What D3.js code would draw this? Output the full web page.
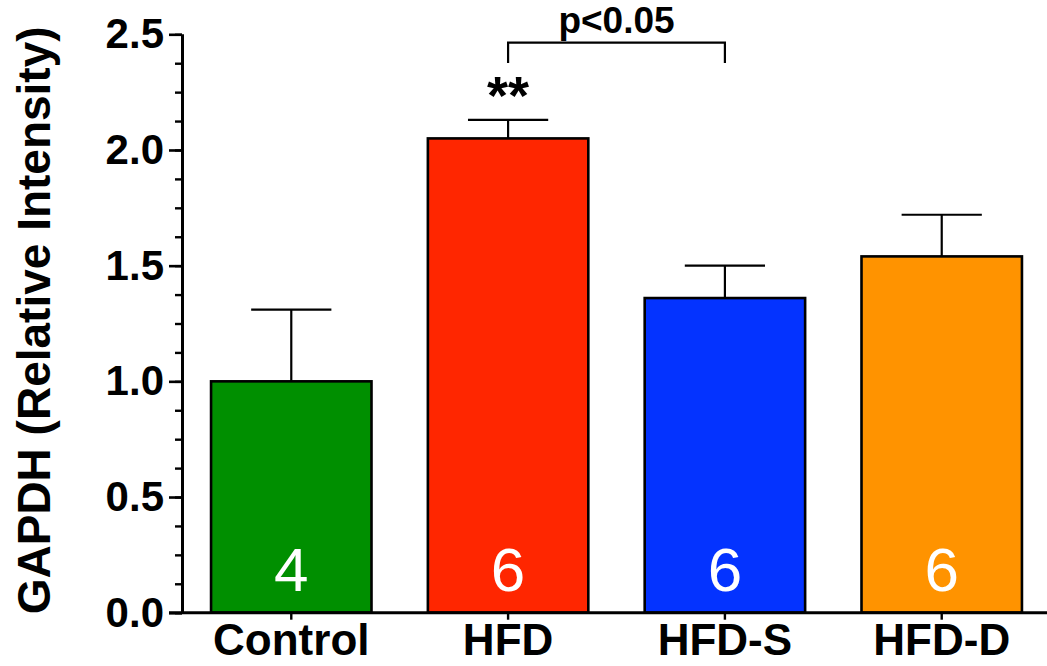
<!DOCTYPE html>
<html>
<head>
<meta charset="utf-8">
<script src="https://cdn.jsdelivr.net/npm/d3@7"></script>
<style>
  html, body { margin: 0; padding: 0; background: #fff; }
  svg { display: block; font-family: "Liberation Sans", Arial, Helvetica, sans-serif; }
</style>
</head>
<body>
<svg id="chart" width="1047" height="666"></svg>
<script>
// ---- data ----
const categories = ['Control', 'HFD', 'HFD-S', 'HFD-D'];
const means      = [1.00, 2.05, 1.36, 1.54];
const errTops    = [1.31, 2.13, 1.50, 1.72];   // mean + SEM
const counts     = ['4', '6', '6', '6'];
const colors     = ['#008F00', '#FF2600', '#0433FF', '#FF9300'];
const yTicks     = [0, 0.5, 1.0, 1.5, 2.0, 2.5];
const yTickText  = ['0.0', '0.5', '1.0', '1.5', '2.0', '2.5'];

const svg = d3.select('#chart');

// plot frame
const axisX = 182, y0 = 612.7, yTop = 34.3;

const y = d3.scaleLinear().domain([0, 2.5]).range([y0, yTop]);
const x = d3.scaleBand().domain(categories).range([axisX, 1051])
  .paddingInner(0.26).paddingOuter(0.134);

const rows = categories.map((c, i) => ({ c, m: means[i], e: errTops[i], n: counts[i], col: colors[i] }));

// error bars (drawn first so bar outline sits on top)
const capHalf = x.bandwidth() / 4;
const eb = svg.append('g').attr('stroke', '#000').attr('stroke-width', 2.2);
eb.selectAll('line.v').data(rows).join('line')
  .attr('x1', d => x(d.c) + x.bandwidth() / 2).attr('x2', d => x(d.c) + x.bandwidth() / 2)
  .attr('y1', d => y(d.m)).attr('y2', d => y(d.e));
eb.selectAll('line.h').data(rows).join('line')
  .attr('x1', d => x(d.c) + x.bandwidth() / 2 - capHalf)
  .attr('x2', d => x(d.c) + x.bandwidth() / 2 + capHalf)
  .attr('y1', d => y(d.e)).attr('y2', d => y(d.e));

// bars
svg.append('g').selectAll('rect').data(rows).join('rect')
  .attr('x', d => x(d.c)).attr('width', x.bandwidth())
  .attr('y', d => y(d.m)).attr('height', d => y0 - y(d.m))
  .attr('fill', d => d.col).attr('stroke', '#000').attr('stroke-width', 2.6);

// n inside bars
svg.append('g').selectAll('text').data(rows).join('text')
  .attr('x', d => x(d.c) + x.bandwidth() / 2).attr('y', 591)
  .attr('text-anchor', 'middle').attr('fill', '#fff')
  .attr('font-size', 62).text(d => d.n);

// y axis: major + minor ticks
const yAxisMinor = d3.axisLeft(y).tickValues(d3.range(0, 2.5001, 0.125))
  .tickSize(7).tickFormat('');
const gMinor = svg.append('g').attr('transform', `translate(${axisX},0)`).call(yAxisMinor);
gMinor.select('.domain').remove();
gMinor.selectAll('line').attr('stroke', '#000').attr('stroke-width', 2.4);

const yAxis = d3.axisLeft(y).tickValues(yTicks).tickSize(13).tickPadding(5)
  .tickFormat((d, i) => yTickText[i]);
const gy = svg.append('g').attr('transform', `translate(${axisX},0)`).call(yAxis);
gy.select('.domain').attr('d', `M0.5,${y0}V${yTop}`).attr('stroke', '#000').attr('stroke-width', 3);
gy.selectAll('line').attr('stroke', '#000').attr('stroke-width', 2.6);
gy.selectAll('text').attr('font-size', 42).attr('font-weight', 'bold').attr('fill', '#000')
  .attr('font-family', '"Liberation Sans", Arial, sans-serif');

// x axis
const xAxis = d3.axisBottom(x).tickSize(7).tickPadding(8);
const gx = svg.append('g').attr('transform', `translate(0,${y0})`).call(xAxis);
gx.select('.domain').attr('d', `M169,0H1047`).attr('stroke', '#000').attr('stroke-width', 3);
gx.selectAll('line').attr('stroke', '#000').attr('stroke-width', 2.4);
gx.selectAll('text').attr('font-size', 44).attr('font-weight', 'bold').attr('fill', '#000')
  .attr('font-family', '"Liberation Sans", Arial, sans-serif')
  .attr('dy', null).attr('y', 42);

// y title
svg.append('text')
  .attr('transform', `translate(50,${(y0 + 28) / 2}) rotate(-90)`)
  .attr('text-anchor', 'middle').attr('font-size', 46).attr('font-weight', 'bold')
  .text('GAPDH (Relative Intensity)');

// significance marks
const cx = c => x(c) + x.bandwidth() / 2;
svg.append('text').attr('x', cx('HFD')).attr('y', 114)
  .attr('text-anchor', 'middle').attr('font-size', 54).attr('font-weight', 'bold')
  .text('**');

const bracketTop = 42.7, bracketLeg = 63;
svg.append('path')
  .attr('d', `M${cx('HFD')},${bracketLeg}V${bracketTop}H${cx('HFD-S')}V${bracketLeg}`)
  .attr('fill', 'none').attr('stroke', '#000').attr('stroke-width', 2.2);
svg.append('text').attr('x', (cx('HFD') + cx('HFD-S')) / 2).attr('y', 33)
  .attr('text-anchor', 'middle').attr('font-size', 37).attr('font-weight', 'bold')
  .text('p<0.05');
</script>
</body>
</html>
